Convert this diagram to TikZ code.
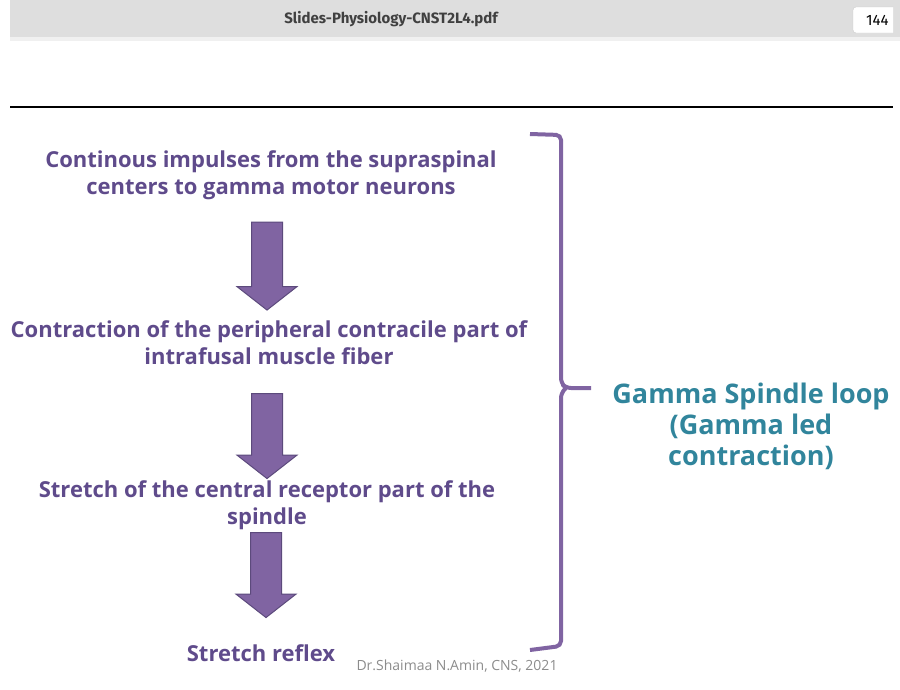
\documentclass[tikz,border=0pt]{standalone}
\usepackage{fontspec}
\setmainfont{Open Sans}
\newfontfamily\barfont{Fira Sans}
\usetikzlibrary{shapes.arrows}
\definecolor{stagepurple}{HTML}{5F4B8B}
\definecolor{arrowfill}{HTML}{8064A2}
\definecolor{arrowline}{HTML}{5C4A7C}
\definecolor{loopteal}{HTML}{31859C}
\definecolor{bargray}{HTML}{DEDEDE}
\definecolor{footgray}{HTML}{8C8C8C}

\begin{document}
\begin{tikzpicture}[x=1pt, y=-1pt,
    stage/.style={align=center, text=stagepurple, inner sep=0pt, font=\fontsize{22}{27}\selectfont\bfseries},
    blockarrow/.style={single arrow, draw=arrowline, fill=arrowfill, line width=1pt, rotate=-90, inner sep=15pt,
        single arrow head extend=14.5pt, single arrow tip angle=104},
    bracket/.style={draw=arrowfill, line width=4pt, rounded corners=5pt}
]
\useasboundingbox (0,0) rectangle (900,689);

% Viewer bar
\fill[bargray] (10,0) rectangle (900,37);
\fill[gray!12] (10,37) rectangle (900,41);
\node[text=black!75, font=\barfont\fontsize{15}{17}\selectfont\bfseries] (title) at (391,19) {Slides-Physiology-CNST2L4.pdf};
\begin{scope}
\clip (850,0) rectangle (893,37);
\draw[gray!40, fill=white, rounded corners=3pt] (853,7) rectangle (910,33);
\node[anchor=west, inner sep=0pt, font=\barfont\fontsize{15}{17}\selectfont] (page) at (866,20) {144};
\end{scope}
\draw[line width=2pt] (10,107) -- (893,107);

% Stages
\node[stage] (impulses) at (271,175) {Continous impulses from the supraspinal\\centers to gamma motor neurons};
\node[stage] (contraction) at (269,343) {Contraction of the peripheral contracile part of\\intrafusal muscle fiber};
\node[stage] (stretch) at (267,505) {Stretch of the central receptor part of the\\spindle};
\node[stage] (reflex) at (261,653) {Stretch reflex};

% Arrows
\node[blockarrow, minimum height=88pt] (arrowA) at (267,260) {};
\node[blockarrow, minimum height=85pt] (arrowB) at (267,430) {};
\node[blockarrow, minimum height=85pt] (arrowC) at (266,569) {};

% Bracket
\draw[bracket] (530,134) -- (561,135) -- (561,383) -- (566,388) -- (591,388);
\draw[bracket] (566,388) -- (561,393) -- (561,646) -- (530,650);

\node[align=center, text=loopteal, inner sep=0pt, font=\fontsize{27}{31}\selectfont\bfseries] (loop) at (751,426) {Gamma Spindle loop\\(Gamma led\\contraction)};

\node[text=footgray, inner sep=0pt, font=\fontsize{14}{16}\selectfont] (footer) at (457,666) {Dr.Shaimaa N.Amin, CNS, 2021};
\end{tikzpicture}
\end{document}
